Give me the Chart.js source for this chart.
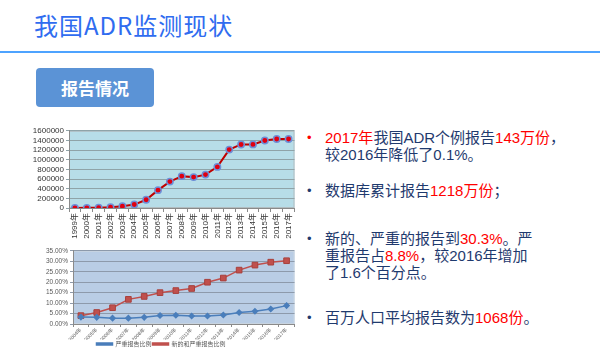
<!DOCTYPE html>
<html>
<head>
<meta charset="utf-8">
<script src="https://cdn.jsdelivr.net/npm/chart.js@4.4.0/dist/chart.umd.min.js"></script>
<style>
  body { margin: 0; width: 600px; height: 353px; background: #fff; position: relative; overflow: hidden;
         font-family: 'Liberation Sans', 'Noto Sans CJK SC', sans-serif; }
  .title { position: absolute; left: 34px; top: 8px; font-size: 24px; color: #2f6cf0; letter-spacing: 1px;
           font-family: 'Noto Sans CJK SC', sans-serif; line-height: 34px; }
  .rule { position: absolute; left: 0; top: 51px; width: 600px; height: 2px; background: #4da3ff; }
  .tag { position: absolute; left: 36px; top: 68px; width: 118px; height: 39px; background: #5b93d6;
         border-radius: 4px; color: #fff; font-weight: bold; font-size: 17px; line-height: 39px; text-align: center;
         font-family: 'Noto Sans CJK SC', sans-serif; }
  .pt { position: absolute; left: 325px; font-size: 15px; line-height: 17px; color: #1f3a6e; white-space: nowrap; }
  .pt::before { content: '•'; position: absolute; left: -18px; top: 0; font-size: 13px; color: #1f3a6e; }
  .pt.first::before { color: #ff0000; }
  .r { color: #ff0000; }
  canvas { position: absolute; }
</style>
</head>
<body>
<div class="title">我国ADR监测现状</div>
<div class="rule"></div>
<div class="tag">报告情况</div>

<div class="pt first" style="top:129px"><span class="r">2017年</span>我国ADR个例报告<span class="r">143万份</span>，<br>较2016年降低了0.1%。</div>
<div class="pt" style="top:182px">数据库累计报告<span class="r">1218万份</span>；</div>
<div class="pt" style="top:230px">新的、严重的报告到<span class="r">30.3%</span>。严<br>重报告占<span class="r">8.8%</span>，较2016年增加<br>了1.6个百分点。</div>
<div class="pt" style="top:309px">百万人口平均报告数为<span class="r">1068份</span>。</div>

<div id="wrapTop" style="position:absolute;left:28px;top:124px;width:272px;height:117px"><canvas id="topChart"></canvas></div>
<div id="wrapBot" style="position:absolute;left:25px;top:245px;width:275px;height:108px"><canvas id="botChart"></canvas></div>

<script>
// ─── data ─────────────────────────────────────────
const reportYears = ['1999', '2000', '2001', '2002', '2003', '2004', '2005', '2006', '2007', '2008',
  '2009', '2010', '2011', '2012', '2013', '2014', '2015', '2016', '2017'];
const reportCounts = [0, 3000, 5000, 17000, 36000, 71000, 170000, 370000, 547000, 660000,
  640000, 692000, 852000, 1210000, 1317000, 1318000, 1398000, 1430000, 1430000];
const countTicks = [0, 200000, 400000, 600000, 800000, 1000000, 1200000, 1400000, 1600000];

const ratioYears = ['2004', '2005', '2006', '2007', '2008', '2009', '2010', '2011', '2012', '2013',
  '2014', '2015', '2016', '2017'];
const seriousRatio = [3.3, 3.2, 2.8, 2.8, 3.2, 4.1, 4.2, 3.8, 3.8, 4.3, 5.5, 6.1, 7.2, 8.8];
const newSeriousRatio = [4.0, 5.5, 7.8, 11.8, 13.2, 15.0, 16.0, 17.0, 20.0, 22.0, 25.8, 28.2, 29.6, 30.3];
const ratioTicks = [0, 5, 10, 15, 20, 25, 30, 35];
const ratioSeriesNames = ['严重报告比例', '新的和严重报告比例'];

const FONT = "'Liberation Sans', 'Noto Sans CJK SC', sans-serif";

// fills the plot area and strokes its frame
const plotBg = {
  id: 'plotBg',
  beforeDraw(chart, args, opts) {
    const { ctx, chartArea: a } = chart;
    ctx.save();
    ctx.fillStyle = opts.color;
    ctx.fillRect(a.left, a.top, a.right - a.left, a.bottom - a.top);
    ctx.strokeStyle = opts.frame;
    ctx.lineWidth = 1;
    ctx.strokeRect(a.left + 0.5, a.top + 0.5, a.right - a.left - 1, a.bottom - a.top - 1);
    ctx.restore();
  },
};

// ─── top: report count ─────────────────────────────
new Chart(document.getElementById('topChart'), {
  type: 'line',
  plugins: [plotBg],
  data: {
    labels: reportYears.map(y => y + '年'),
    datasets: [{
      data: reportCounts,
      borderColor: '#c00000',
      borderWidth: 2,
      tension: 0,
      pointStyle: 'circle',
      pointRadius: 3.2,
      pointBackgroundColor: '#e00010',
      pointBorderColor: '#6d8fd8',
      pointBorderWidth: 1.5,
    }],
  },
  options: {
    responsive: true,
    maintainAspectRatio: false,
    animation: false,
    layout: { padding: { top: 1, right: 3 } },
    plugins: {
      legend: { display: false },
      tooltip: { enabled: false },
      plotBg: { color: '#b7dde8', frame: '#b0bcc0' },
    },
    scales: {
      x: {
        offset: true,
        grid: { drawOnChartArea: false, offset: true, tickLength: 4, color: '#8a8a8a' },
        border: { color: '#8a8a8a' },
        ticks: { autoSkip: false, minRotation: 90, maxRotation: 90, padding: 1,
                 font: { size: 8, family: FONT }, color: '#333' },
        afterFit: s => { s.height = 33; },
      },
      y: {
        min: 0, max: 1600000,
        afterBuildTicks: s => { s.ticks = countTicks.map(v => ({ value: v })); },
        grid: { color: '#8fa3a8', tickLength: 3 },
        border: { color: '#8a8a8a' },
        ticks: { autoSkip: false, callback: v => String(v), padding: 2, font: { size: 8, family: FONT }, color: '#333' },
        afterFit: s => { s.width = 41; },
      },
    },
  },
});

// ─── bottom: serious ratios ────────────────────────
new Chart(document.getElementById('botChart'), {
  type: 'line',
  plugins: [plotBg],
  data: {
    labels: ratioYears.map(y => y + '年'),
    datasets: [{
      label: ratioSeriesNames[0],
      data: seriousRatio,
      borderColor: '#4a7ebb',
      backgroundColor: '#4a7ebb',
      borderWidth: 1.5,
      pointStyle: 'rectRot',
      pointRadius: 2.5,
      pointBackgroundColor: '#4a7ebb',
      pointBorderColor: '#4a7ebb',
    }, {
      label: ratioSeriesNames[1],
      data: newSeriousRatio,
      borderColor: '#c0504d',
      backgroundColor: '#c0504d',
      borderWidth: 1.5,
      pointStyle: 'rect',
      pointRadius: 4,
      pointBackgroundColor: '#c0504d',
      pointBorderColor: '#a8403d',
      pointBorderWidth: 1,
    }],
  },
  options: {
    responsive: true,
    maintainAspectRatio: false,
    animation: false,
    layout: { padding: { top: 0, right: 3, bottom: 1 } },
    plugins: {
      legend: {
        position: 'bottom',
        maxHeight: 12,
        labels: { boxWidth: 16, boxHeight: 2, padding: 1, font: { size: 6, family: FONT }, color: '#595959' },
      },
      tooltip: { enabled: false },
      plotBg: { color: '#b9cde5', frame: '#c8d4e0' },
    },
    scales: {
      x: {
        offset: true,
        grid: { drawOnChartArea: false, offset: true, tickLength: 3, color: '#8a8a8a' },
        border: { color: '#8a8a8a' },
        ticks: { autoSkip: false, minRotation: 45, maxRotation: 45, padding: 0,
                 font: { size: 5, family: FONT }, color: '#595959' },
        afterFit: s => { s.height = 16; },
      },
      y: {
        min: 0, max: 35,
        afterBuildTicks: s => { s.ticks = ratioTicks.map(v => ({ value: v })); },
        grid: { color: '#8d9aab', tickLength: 3 },
        border: { color: '#8a8a8a' },
        ticks: { autoSkip: false, callback: v => v.toFixed(2) + '%', padding: 2, font: { size: 6.5, family: FONT }, color: '#595959' },
        afterFit: s => { s.width = 48; },
      },
    },
  },
});
</script>
</body>
</html>
